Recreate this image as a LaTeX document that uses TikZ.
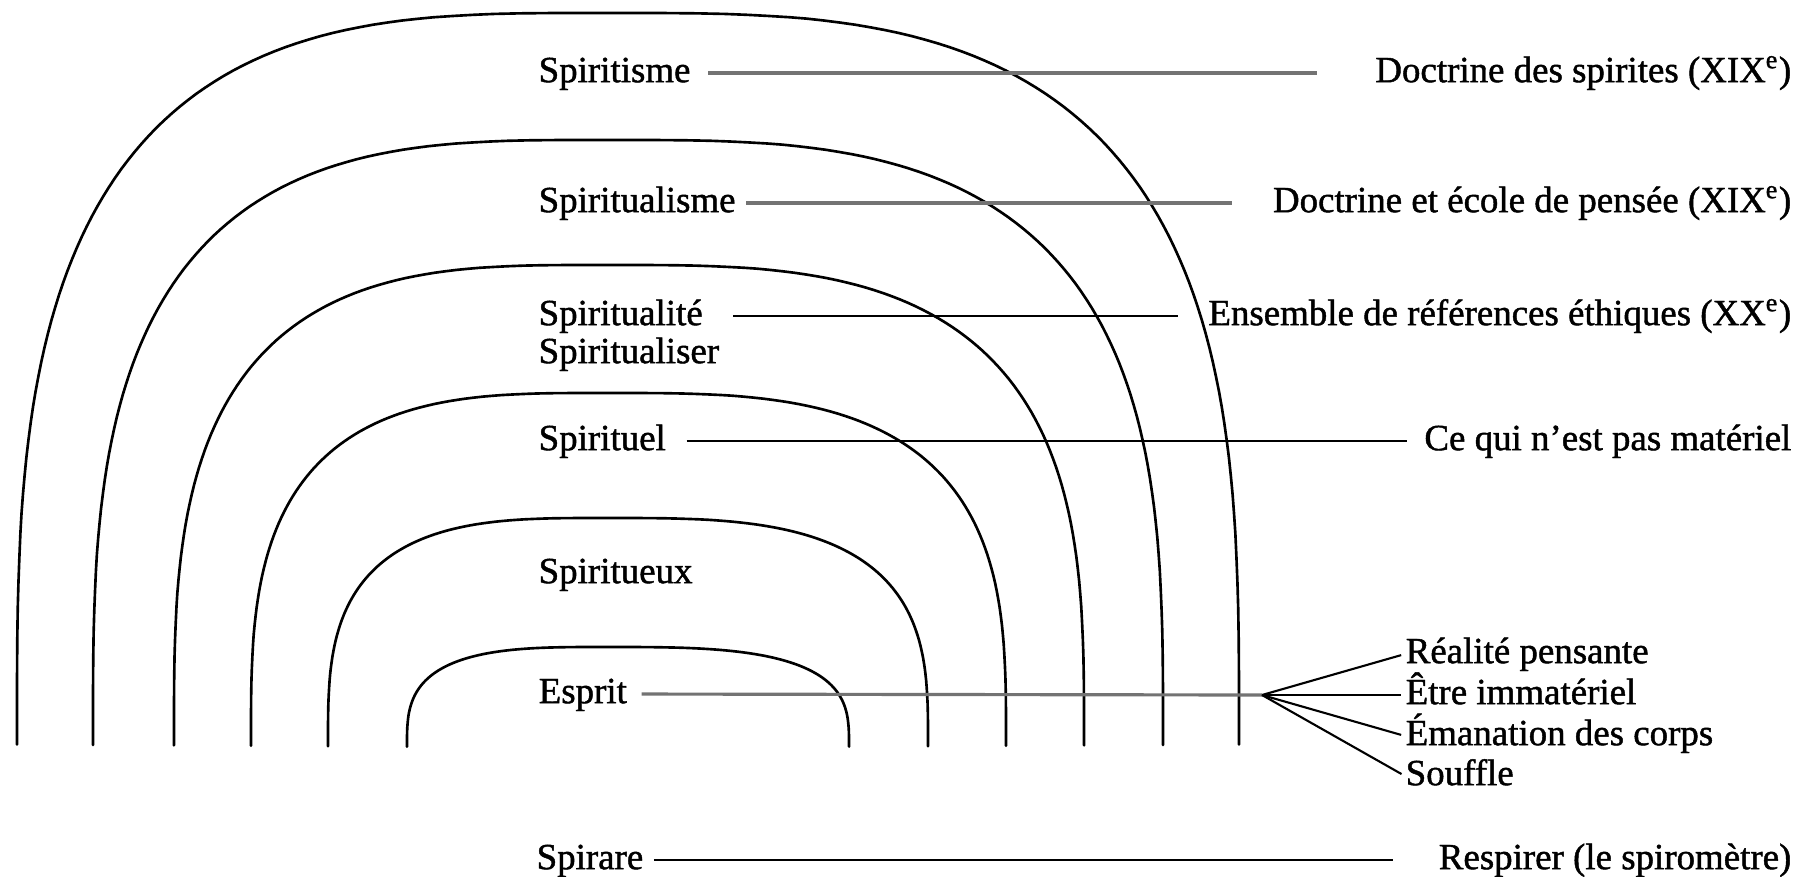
\documentclass[tikz,border=0pt]{standalone}
\usepackage{fontspec}
\setmainfont[FakeBold=1.2]{Liberation Serif}
\begin{document}
\begin{tikzpicture}[x=0.1mm, y=-0.1mm,
  lbl/.style={inner sep=0pt, font=\fontsize{10.5}{12}\selectfont, text height=7.6pt, text depth=2.4pt},
  leftlbl/.style={lbl, anchor=west},
  rightlbl/.style={lbl, anchor=east},
  fanlbl/.style={lbl, anchor=west},
  arch/.style={line width=0.75pt, line cap=round},
  leader/.style={line width=0.6pt},
  greyleader/.style={line width=0.9pt, black!55}]
\useasboundingbox (0,0) rectangle (1800,876);

% nested arches (superellipse-like)
\foreach \xl/\xr/\tp in {17/1239/13, 93/1163/140, 174/1084/265, 251/1006/393, 328/928/518, 407/849/647}{
  \draw[arch] plot[domain=180:90, samples=70, variable=\t]
      ({605-(605-\xl)*pow(abs(cos(\t))+0.0001,0.625)}, {747-(747-\tp)*pow(abs(sin(\t))+0.0001,0.625)})
    -- plot[domain=90:0, samples=70, variable=\t]
      ({605+(\xr-605)*pow(abs(cos(\t))+0.0001,0.625)}, {747-(747-\tp)*pow(abs(sin(\t))+0.0001,0.625)});
}

% left labels
\node[leftlbl] (sisme)  at (538,73)  {Spiritisme};
\node[leftlbl] (slisme) at (538,203) {Spiritualisme};
\node[leftlbl] (slite)  at (538,316) {Spiritualité};
\node[leftlbl] (sliser) at (538,354) {Spiritualiser};
\node[leftlbl] (sel)    at (538,441) {Spirituel};
\node[leftlbl] (sueux)  at (538,574) {Spiritueux};
\node[leftlbl] (esprit) at (538,694) {Esprit};
\node[leftlbl] (spirare) at (536,860) {Spirare};

% right labels
\node[rightlbl] (d1) at (1792,73)  {Doctrine des spirites (XIX\textsuperscript{e})};
\node[rightlbl] (d2) at (1792,203) {Doctrine et école de pensée (XIX\textsuperscript{e})};
\node[rightlbl] (d3) at (1792,316) {Ensemble de références éthiques (XX\textsuperscript{e})};
\node[rightlbl] (d4) at (1792,441) {Ce qui n’est pas matériel};
\node[rightlbl] (d7) at (1792,860) {Respirer (le spiromètre)};

% fan labels
\node[fanlbl] (r1) at (1405,654) {Réalité pensante};
\node[fanlbl] (r2) at (1405,695) {Être immatériel};
\node[fanlbl] (r3) at (1405,736) {Émanation des corps};
\node[fanlbl] (r4) at (1405,776) {Souffle};
\coordinate (fan) at (1262,695);

% leaders
\draw[greyleader, shorten <=1.7mm, shorten >=5.8mm] (sisme.east) -- (d1.west);
\draw[greyleader, shorten <=1.0mm, shorten >=4.0mm] (slisme.east) -- (d2.west);
\draw[leader, shorten <=3.0mm, shorten >=3.0mm] (slite.east) -- (d3.west);
\draw[leader, shorten <=2.0mm, shorten >=1.7mm] (sel.east) -- (d4.west);
\draw[greyleader, shorten <=1.4mm] (esprit.east) -- (fan);
\draw[leader, shorten >=0.4mm] (fan) -- (r1.west);
\draw[leader, shorten >=0.4mm] (fan) -- (r2.west);
\draw[leader, shorten >=0.4mm] (fan) -- (r3.west);
\draw[leader, shorten >=0.4mm] (fan) -- (r4.west);
\draw[leader, line width=0.8pt, shorten <=1.0mm, shorten >=4.5mm] (spirare.east) -- (d7.west);
\end{tikzpicture}
\end{document}
